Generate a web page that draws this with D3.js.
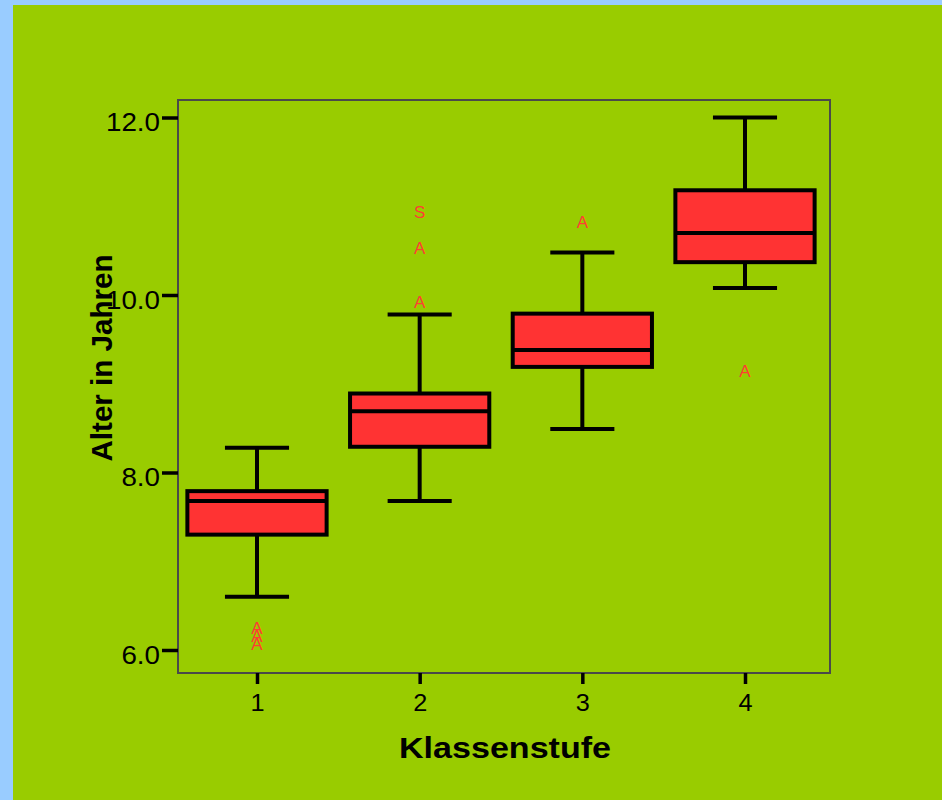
<!DOCTYPE html>
<html>
<head>
<meta charset="utf-8">
<script src="https://cdn.jsdelivr.net/npm/d3@7/dist/d3.min.js"></script>
<style>
  html, body { margin: 0; padding: 0; background: #99ccff; }
  svg { display: block; }
  text { font-family: "Liberation Sans", Arial, sans-serif; }
</style>
</head>
<body>
<svg id="chart" width="942" height="800"></svg>
<script>
// ---- data ----
const categories  = [1, 2, 3, 4];
const whiskerLow  = [6.60, 7.68, 8.49, 10.08];
const q1          = [7.30, 8.29, 9.19, 10.37];
const median      = [7.68, 8.69, 9.38, 10.70];
const q3          = [7.79, 8.89, 9.79, 11.18];
const whiskerHigh = [8.28, 9.78, 10.48, 12.00];

const outlierCat   = [1, 1, 1, 2, 2, 2, 3, 4];
const outlierValue = [6.25, 6.16, 6.07, 9.92, 10.53, 10.94, 10.82, 9.14];
const outlierLabel = ["A", "A", "A", "A", "A", "S", "A", "A"];

const yTicks = [6, 8, 10, 12];
const xTitle = "Klassenstufe";
const yTitle = "Alter in Jahren";

// ---- drawing ----
const svg = d3.select("#chart");

svg.append("rect").attr("x", 13).attr("y", 5).attr("width", 942 - 13).attr("height", 800 - 5)
  .attr("fill", "#99cc00");

const frame = { left: 178, right: 830, top: 100, bottom: 673 };

const x = d3.scaleLinear().domain([1, 4]).range([257, 745]);
const y = d3.scaleLinear().domain([6, 12]).range([650, 117.5]);

const unit = x(2) - x(1);
const boxHalf = unit * 0.428;
const capHalf = unit * 0.197;

function stretch(sel, f) {
  sel.each(function () {
    const w = this.getComputedTextLength();
    d3.select(this).attr("textLength", w * f).attr("lengthAdjust", "spacingAndGlyphs");
  });
}

// frame
svg.append("rect")
  .attr("x", frame.left).attr("y", frame.top)
  .attr("width", frame.right - frame.left).attr("height", frame.bottom - frame.top)
  .attr("fill", "none").attr("stroke", "#4a4a4a").attr("stroke-width", 2);

// y axis
const yAxis = d3.axisLeft(y).tickValues(yTicks).tickFormat(d3.format(".1f"))
  .tickSize(16).tickPadding(2);
const gy = svg.append("g").attr("transform", `translate(${frame.left},0)`).call(yAxis);
gy.select(".domain").remove();
gy.selectAll(".tick line").attr("stroke", "#000").attr("stroke-width", 3.5);
gy.selectAll(".tick text").attr("fill", "#000").attr("font-size", 25).attr("dy", "0.52em");
stretch(gy.selectAll(".tick text"), 1.11);

// x axis
const xAxis = d3.axisBottom(x).tickValues(categories).tickFormat(d3.format("d"))
  .tickSize(11).tickPadding(11);
const gx = svg.append("g").attr("transform", `translate(0,${frame.bottom})`).call(xAxis);
gx.select(".domain").remove();
gx.selectAll(".tick line").attr("stroke", "#000").attr("stroke-width", 3.5);
gx.selectAll(".tick text").attr("fill", "#000").attr("font-size", 23);
stretch(gx.selectAll(".tick text"), 1.1);

// boxes
const boxes = svg.append("g");
categories.forEach((c, i) => {
  const cx = x(c);
  const g = boxes.append("g");
  g.append("line").attr("x1", cx).attr("x2", cx)
    .attr("y1", y(whiskerHigh[i])).attr("y2", y(q3[i]))
    .attr("stroke", "#000").attr("stroke-width", 4);
  g.append("line").attr("x1", cx).attr("x2", cx)
    .attr("y1", y(q1[i])).attr("y2", y(whiskerLow[i]))
    .attr("stroke", "#000").attr("stroke-width", 4);
  [whiskerHigh[i], whiskerLow[i]].forEach(v => {
    g.append("line").attr("x1", cx - capHalf).attr("x2", cx + capHalf)
      .attr("y1", y(v)).attr("y2", y(v))
      .attr("stroke", "#000").attr("stroke-width", 4);
  });
  g.append("rect").attr("x", cx - boxHalf).attr("y", y(q3[i]))
    .attr("width", boxHalf * 2).attr("height", y(q1[i]) - y(q3[i]))
    .attr("fill", "#ff3333").attr("stroke", "#000").attr("stroke-width", 4);
  g.append("line").attr("x1", cx - boxHalf).attr("x2", cx + boxHalf)
    .attr("y1", y(median[i])).attr("y2", y(median[i]))
    .attr("stroke", "#000").attr("stroke-width", 4);
});

// outliers
svg.append("g").selectAll("text")
  .data(outlierCat.map((c, i) => ({ c, v: outlierValue[i], t: outlierLabel[i] })))
  .join("text")
  .attr("x", d => x(d.c))
  .attr("y", d => y(d.v))
  .attr("dy", "0.36em")
  .attr("text-anchor", "middle")
  .attr("font-size", 17)
  .attr("fill", "#ff3d33")
  .text(d => d.t);

// titles
svg.append("text")
  .attr("x", 505).attr("y", 757.5)
  .attr("text-anchor", "middle")
  .attr("font-size", 29).attr("font-weight", "bold").attr("fill", "#000")
  .attr("textLength", 212).attr("lengthAdjust", "spacingAndGlyphs")
  .text(xTitle);

svg.append("text")
  .attr("transform", "translate(112,358) rotate(-90)")
  .attr("text-anchor", "middle")
  .attr("font-size", 30).attr("font-weight", "bold").attr("fill", "#000")
  .attr("textLength", 207).attr("lengthAdjust", "spacingAndGlyphs")
  .text(yTitle);
</script>
</body>
</html>
